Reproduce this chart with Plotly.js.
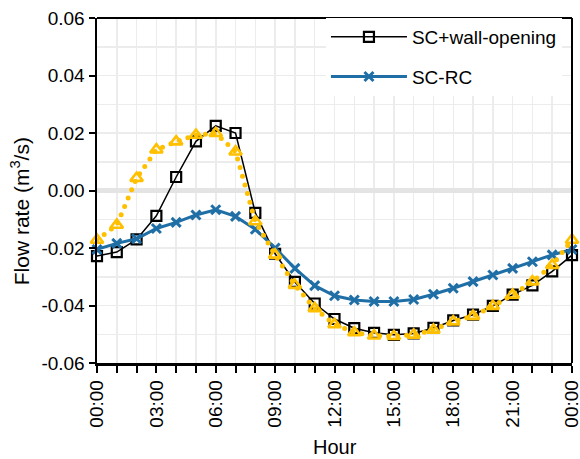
<!DOCTYPE html>
<html>
<head>
<meta charset="utf-8">
<script src="https://cdn.plot.ly/plotly-3.0.1.min.js"></script>
<style>
  html, body { margin: 0; padding: 0; background: #fff; }
  #chart { width: 580px; height: 459px; }
  /* round caps turn the zero-length dashes of the dotted series into dots */
  .scatterlayer .js-line { stroke-linecap: round; }
</style>
</head>
<body>
<div id="chart"></div>
<script>
// Hour of day, 0 to 24
const hours = [0, 1, 2, 3, 4, 5, 6, 7, 8, 9, 10, 11, 12, 13, 14, 15, 16, 17, 18, 19, 20, 21, 22, 23, 24];

// Flow rate (m3/s) per hour
const wallOpening = [-0.0228, -0.0214, -0.0170, -0.0088, 0.0047, 0.0171, 0.0225, 0.0200, -0.0078,
  -0.0220, -0.0318, -0.0393, -0.0447, -0.0479, -0.0495, -0.0502, -0.0497, -0.0478,
  -0.0452, -0.0432, -0.0401, -0.0362, -0.0330, -0.0281, -0.0225];
const scRC = [-0.0205, -0.0184, -0.0168, -0.0132, -0.0111, -0.0085, -0.0067, -0.0090, -0.0135,
  -0.0200, -0.0271, -0.0331, -0.0366, -0.0381, -0.0386, -0.0386, -0.0379, -0.0361,
  -0.0340, -0.0317, -0.0294, -0.0271, -0.0248, -0.0224, -0.0205];
const dottedSeries = [-0.0172, -0.0120, 0.0043, 0.0142, 0.0170, 0.0193, 0.0199, 0.0135, -0.0108,
  -0.0224, -0.0329, -0.0410, -0.0466, -0.0494, -0.0505, -0.0507, -0.0502, -0.0485,
  -0.0456, -0.0437, -0.0402, -0.0363, -0.0317, -0.0260, -0.0172];

// Axis ticks
const xTickVals = [0, 3, 6, 9, 12, 15, 18, 21, 24];
const xTickLabels = ['00:00', '03:00', '06:00', '09:00', '12:00', '15:00', '18:00', '21:00', '00:00'];
const yTickVals = [-0.06, -0.04, -0.02, 0, 0.02, 0.04, 0.06];
const yTickLabels = ['-0.06', '-0.04', '-0.02', '0.00', '0.02', '0.04', '0.06'];

const FONT = '"Liberation Sans", Arial, sans-serif';
const BLUE = '#1f6fa6';
const GOLD = '#ffc000';
const GRID = '#ececec';

const traces = [
  {
    x: hours, y: wallOpening, name: 'SC+wall-opening',
    type: 'scatter', mode: 'lines+markers', cliponaxis: false,
    legendgroup: 'a', legendrank: 1,
    line: { color: '#000', width: 1.5 },
    marker: { symbol: 'square-open', size: 10, color: '#000', line: { width: 2.2, color: '#000' } }
  },
  {
    x: hours, y: scRC, name: 'SC-RC',
    type: 'scatter', mode: 'lines+markers', cliponaxis: false,
    legendgroup: 'b', legendrank: 2,
    line: { color: BLUE, width: 3 },
    marker: { symbol: 'x-thin-open', size: 9, color: BLUE, line: { width: 3, color: BLUE } }
  },
  {
    x: hours, y: dottedSeries, name: 'SC',
    type: 'scatter', mode: 'lines+markers', cliponaxis: false,
    showlegend: false,
    line: { color: GOLD, width: 5, dash: '0px,9px' },
    marker: { symbol: 'triangle-up-open', size: 11, color: GOLD, line: { width: 2.6, color: GOLD } }
  }
];

const layout = {
  width: 580, height: 459,
  margin: { l: 97, r: 8, t: 18, b: 96 },
  paper_bgcolor: '#fff', plot_bgcolor: '#fff',
  font: { family: FONT, size: 19, color: '#000' },
  showlegend: true,
  legend: {
    x: 0.482, xanchor: 'left', y: 1.0, yanchor: 'top',
    bgcolor: '#fff', borderwidth: 0,
    font: { family: FONT, size: 19, color: '#000' },
    itemwidth: 76, traceorder: 'grouped', tracegroupgap: 12
  },
  xaxis: {
    range: [0, 24], fixedrange: true,
    tickmode: 'array', tickvals: xTickVals, ticktext: xTickLabels, tickangle: -90,
    ticklabeloverflow: 'allow',
    ticks: 'outside', ticklen: 7, tickwidth: 2, tickcolor: '#000',
    showline: true, linecolor: '#000', linewidth: 2.5,
    showgrid: true, gridcolor: GRID, gridwidth: 1.5,
    zeroline: false,
    minor: { tick0: 0, dtick: 1, ticks: 'outside', ticklen: 7, tickwidth: 2, tickcolor: '#000',
             showgrid: true, gridcolor: GRID, gridwidth: 1.5 },
    tickfont: { family: FONT, size: 19, color: '#000' }
  },
  yaxis: {
    range: [-0.06, 0.06], fixedrange: true,
    tickmode: 'array', tickvals: yTickVals, ticktext: yTickLabels,
    ticks: 'outside', ticklen: 6, tickwidth: 2, tickcolor: '#000',
    showline: true, linecolor: '#000', linewidth: 2.5,
    showgrid: true, gridcolor: GRID, gridwidth: 1.5,
    zeroline: true, zerolinecolor: '#e4e4e4', zerolinewidth: 5,
    minor: { tick0: 0, dtick: 0.01, ticks: '', showgrid: true, gridcolor: GRID, gridwidth: 1.5 },
    tickfont: { family: FONT, size: 19, color: '#000' }
  },
  shapes: [
    { type: 'line', xref: 'paper', yref: 'paper', x0: 0, x1: 1, y0: 1, y1: 1, line: { color: '#000', width: 2 } },
    { type: 'line', xref: 'paper', yref: 'paper', x0: 1, x1: 1, y0: 0, y1: 1, line: { color: '#000', width: 2 } }
  ],
  annotations: [
    { text: 'Flow rate (m<sup>3</sup>/s)', xref: 'paper', yref: 'paper', x: -0.162, y: 0.44,
      xanchor: 'center', yanchor: 'middle', textangle: -90, showarrow: false,
      font: { family: FONT, size: 21, color: '#000' } },
    { text: 'Hour', xref: 'paper', yref: 'paper', x: 0.5, y: -0.2435,
      xanchor: 'center', yanchor: 'middle', showarrow: false,
      font: { family: FONT, size: 20, color: '#000' } }
  ]
};

Plotly.newPlot('chart', traces, layout, { displayModeBar: false, staticPlot: true });
</script>
</body>
</html>
